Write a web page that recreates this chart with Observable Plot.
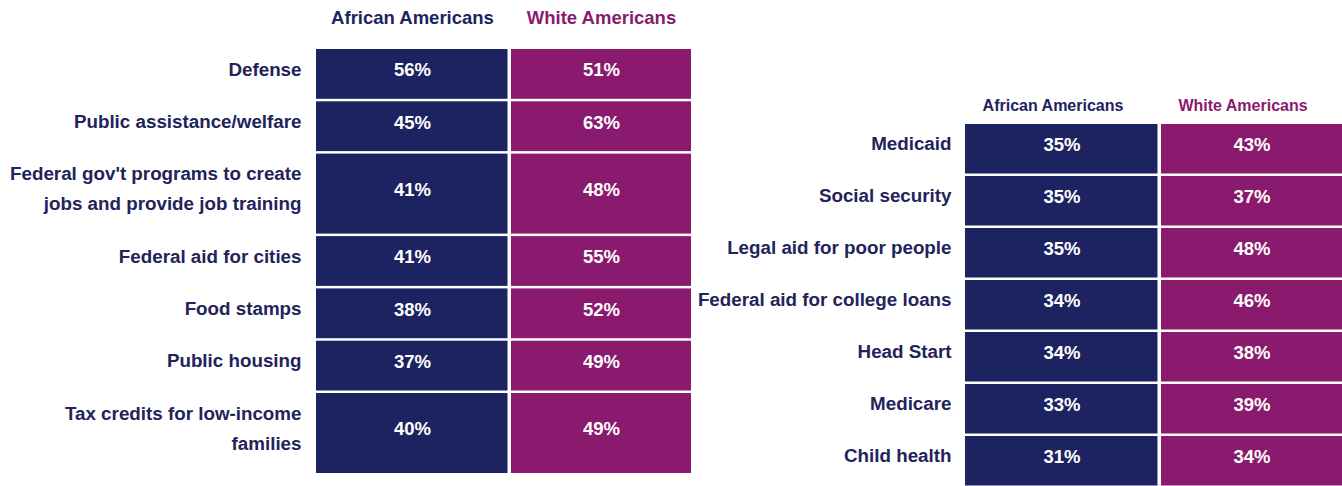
<!DOCTYPE html>
<html><head><meta charset="utf-8">
<script src="https://cdn.jsdelivr.net/npm/d3@7"></script>
<script src="https://cdn.jsdelivr.net/npm/@observablehq/plot@0.6"></script>
<style>
html,body{margin:0;padding:0;background:#fff;}
#wrap{position:relative;width:1342px;height:486px;overflow:hidden;}
</style></head><body><div id="wrap"></div>
<script>
const groups = ["African Americans", "White Americans"];

const leftItems = [
  "Defense",
  "Public assistance/welfare",
  "Federal gov't programs to create\njobs and provide job training",
  "Federal aid for cities",
  "Food stamps",
  "Public housing",
  "Tax credits for low-income\nfamilies"
];
const leftAfrican = [56, 45, 41, 41, 38, 37, 40];
const leftWhite = [51, 63, 48, 55, 52, 49, 49];

const rightItems = [
  "Medicaid",
  "Social security",
  "Legal aid for poor people",
  "Federal aid for college loans",
  "Head Start",
  "Medicare",
  "Child health"
];
const rightAfrican = [35, 35, 35, 34, 34, 33, 31];
const rightWhite = [43, 37, 48, 46, 38, 39, 34];

const NAVY = "#1d2260";
const PURPLE = "#8a1a6e";
const LABEL = "#22235a";
const FONT = "'Liberation Sans', Arial, Helvetica, sans-serif";
const EXTRA_LINE = 30 / 52; // extra row height (in row units) per extra text line

function buildRows(items, a, w) {
  let y = 0;
  return items.map((label, i) => {
    const lines = label.split("\n").length;
    const h = 1 + (lines - 1) * EXTRA_LINE;
    const r = {label, y1: y, y2: y + h, mid: y + h / 2, a: a[i], w: w[i]};
    y += h;
    return r;
  });
}
function buildCells(rows) {
  return rows.flatMap(r => [
    {group: groups[0], value: r.a, y1: r.y1, y2: r.y2, mid: r.mid},
    {group: groups[1], value: r.w, y1: r.y1, y2: r.y2, mid: r.mid}
  ]);
}

function panel({items, a, w, width, marginLeft, marginRight, top, bottom, headerSize, headerDy, headerDx, left}) {
  const rows = buildRows(items, a, w);
  const cells = buildCells(rows);
  const total = rows[rows.length - 1].y2;
  const svg = Plot.plot({
    width, height: 486,
    marginLeft, marginRight, marginTop: top, marginBottom: 0,
    style: {background: "transparent", fontFamily: FONT, overflow: "visible", position: "absolute", top: "0px", left: left + "px", maxWidth: "none"},
    x: {domain: groups, paddingInner: 0.016, paddingOuter: 0, axis: null},
    y: {domain: [0, total], range: [top, bottom], axis: null},
    color: {domain: groups, range: [NAVY, PURPLE]},
    marks: [
      Plot.barY(cells.filter(d => d.group === groups[0]), {x: "group", y1: "y1", y2: "y2", fill: "group", insetTop: 1.25, insetBottom: 1.25, insetRight: -5.5}),
      Plot.barY(cells.filter(d => d.group === groups[1]), {x: "group", y1: "y1", y2: "y2", fill: "group", insetTop: 1.25, insetBottom: 1.25, insetLeft: 6}),
      Plot.text(cells, {x: "group", y: "mid", text: d => d.value + "%", fill: "white", fontSize: 18.5, fontWeight: "bold", dy: -4, dx: 3}),
      Plot.text(rows, {y: "mid", text: "label", frameAnchor: "left", textAnchor: "end", lineAnchor: "middle", dx: -14, dy: -8.5, fill: LABEL, fontSize: 18.8, fontWeight: "bold", lineHeight: 1.6}),
      Plot.text(groups, {x: d => d, text: d => d, fill: d => d, frameAnchor: "top", lineAnchor: "middle", dy: headerDy, dx: headerDx, fontSize: headerSize, fontWeight: "bold"})
    ]
  });
  return svg;
}

const wrap = document.getElementById("wrap");
wrap.appendChild(panel({
  items: leftItems, a: leftAfrican, w: leftWhite,
  width: 700, marginLeft: 315, marginRight: 9, top: 47.75, bottom: 474.25,
  headerSize: 18.5, headerDy: -30, headerDx: 3, left: 0
}));
wrap.appendChild(panel({
  items: rightItems, a: rightAfrican, w: rightWhite,
  width: 662, marginLeft: 285, marginRight: 0, top: 122.75, bottom: 486.75,
  headerSize: 16, headerDy: -17, headerDx: -6, left: 680
}));
</script>
</body></html>
